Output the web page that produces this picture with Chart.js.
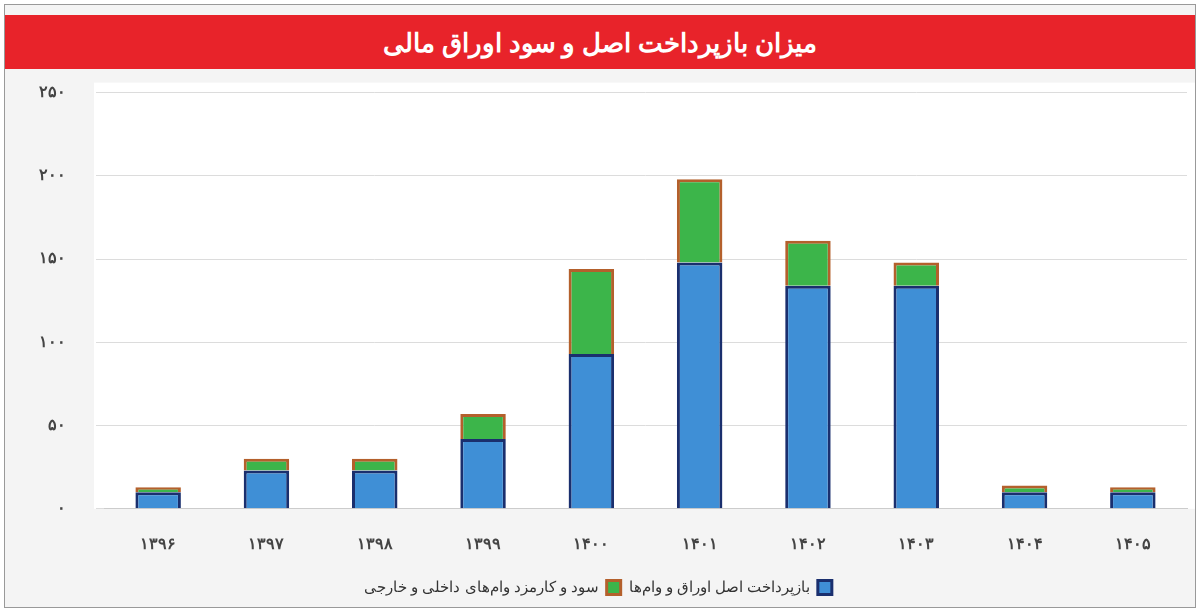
<!DOCTYPE html>
<html><head><meta charset="utf-8">
<script src="https://cdn.jsdelivr.net/npm/chart.js"></script>
<style>
body{margin:0;background:#fff;font-family:"Noto Sans",sans-serif;}
#wrap{position:absolute;left:4px;top:4px;width:1190px;height:602px;border:1px solid #999;background:#f4f4f4;overflow:hidden;}
#title{position:absolute;z-index:2;left:0;top:10px;width:1190px;height:54px;background:#e8232a;color:#fff;font-size:26px;font-weight:bold;text-align:center;line-height:54px;direction:rtl;}
#box{position:absolute;left:0;top:48px;width:1190px;height:554px;}
</style></head><body>
<div id="wrap">
<div id="title">میزان بازپرداخت اصل و سود اوراق مالی</div>
<div id="box"><canvas id="c"></canvas></div>
</div>
<script>
var years = ['۱۳۹۶','۱۳۹۷','۱۳۹۸','۱۳۹۹','۱۴۰۰','۱۴۰۱','۱۴۰۲','۱۴۰۳','۱۴۰۴','۱۴۰۵'];
var principal = [10, 23, 23, 42, 93, 148, 134, 134, 10, 10];
var interest = [3, 7, 7, 15, 51, 50, 27, 14, 4, 3];
var fa = function(n){ return String(n).replace(/\d/g, function(d){ return '۰۱۲۳۴۵۶۷۸۹'[d]; }); };

new Chart(document.getElementById('c'), {
    type: 'bar',
    data: {
        labels: years,
        datasets: [
            { label: 'بازپرداخت اصل اوراق و وام‌ها', data: principal, backgroundColor: '#3f8fd6', borderColor: '#1a2f6e', borderWidth: 3, barPercentage: 0.42, categoryPercentage: 1 },
            { label: 'سود و کارمزد وام‌های داخلی و خارجی', data: interest, backgroundColor: '#3cb54a', borderColor: '#b4602c', borderWidth: 3, barPercentage: 0.42, categoryPercentage: 1 }
        ]
    },
    options: {
        responsive: true,
        maintainAspectRatio: false,
        animation: false,
        layout: { padding: { left: 4, right: 8, top: 0, bottom: 2 } },
        scales: {
            x: { stacked: true, grid: { display: false }, border: { color: '#ccc' },
                 ticks: { color: '#444', font: { size: 16, weight: 'bold' }, padding: 18 } },
            y: { stacked: true, min: 0, max: 250, border: { display: false },
                 ticks: { stepSize: 50, color: '#444', font: { size: 16, weight: 'bold' }, padding: 30, callback: function(v){ return fa(v); } },
                 grid: { color: '#dcdcdc' } }
        },
        plugins: {
            legend: { position: 'bottom', rtl: true, labels: { color: '#333', font: { size: 15 }, boxWidth: 14, boxHeight: 14, padding: 8 } },
            tooltip: { enabled: false }
        }
    },
    plugins: [{
        id: 'plotBg',
        beforeDraw: function(chart) {
            var a = chart.chartArea, ctx = chart.ctx;
            ctx.save();
            ctx.fillStyle = '#fff';
            ctx.fillRect(a.left - 10, a.top - 10, a.width + 20, a.height + 10);
            ctx.restore();
        }
    }]
});
</script>
</body></html>
